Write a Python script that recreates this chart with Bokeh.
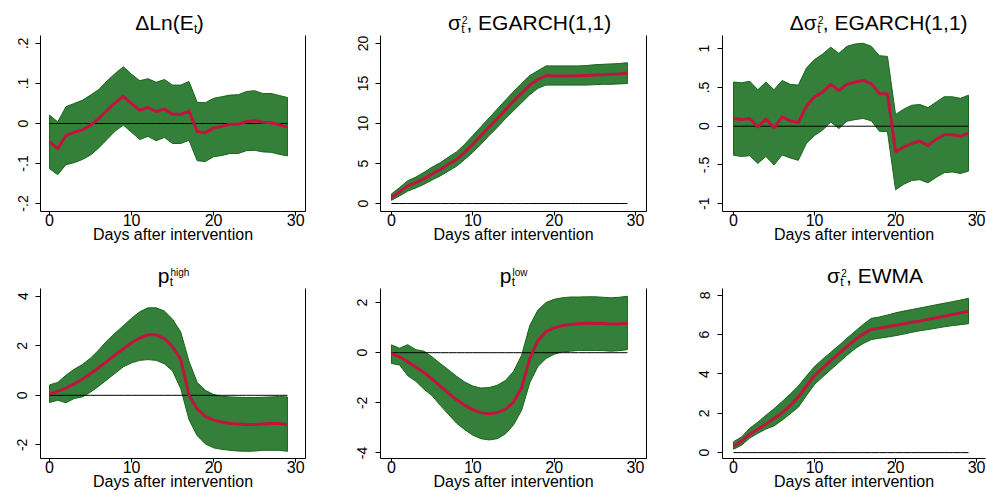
from bokeh.plotting import figure
from bokeh.models import FixedTicker, LinearAxis, Range1d
from bokeh.layouts import column, row
from bokeh.core.properties import value
from bokeh.embed import file_html
from bokeh.resources import INLINE

# ---- data -------------------------------------------------------------
days = list(range(30))
x_ticks = [0, 10, 20, 30]
x_title = "Days after intervention"

dlne_mean = [-0.046, -0.063, -0.030, -0.022, -0.016, -0.004, 0.012, 0.033, 0.052, 0.068,
             0.050, 0.033, 0.040, 0.030, 0.036, 0.023, 0.023, 0.031, -0.020, -0.023,
             -0.011, -0.007, -0.002, -0.002, 0.005, 0.007, 0.003, 0.002, -0.003, -0.009]
dlne_upper = [0.021, 0.004, 0.042, 0.050, 0.058, 0.071, 0.085, 0.106, 0.125, 0.142,
              0.123, 0.107, 0.112, 0.103, 0.110, 0.096, 0.096, 0.105, 0.053, 0.052,
              0.063, 0.067, 0.071, 0.072, 0.080, 0.082, 0.075, 0.075, 0.070, 0.065]
dlne_lower = [-0.113, -0.128, -0.103, -0.098, -0.090, -0.079, -0.061, -0.040, -0.019, -0.004,
              -0.022, -0.040, -0.032, -0.043, -0.035, -0.050, -0.050, -0.042, -0.093, -0.095,
              -0.083, -0.080, -0.075, -0.075, -0.068, -0.067, -0.071, -0.072, -0.077, -0.081]
dlne_ticks = [-0.2, -0.1, 0, 0.1, 0.2]
dlne_tick_labels = ["-.2", "-.1", "0", ".1", ".2"]

egarch_mean = [0.75, 1.45, 2.2, 2.6, 3.1, 3.7, 4.25, 4.9, 5.5, 6.4,
               7.4, 8.5, 9.6, 10.6, 11.7, 12.8, 13.8, 14.8, 15.5, 16.0,
               15.95, 15.95, 15.95, 15.97, 16.0, 16.05, 16.1, 16.15, 16.2, 16.3]
egarch_upper = [1.2, 2.0, 2.85, 3.3, 3.9, 4.55, 5.1, 5.8, 6.45, 7.4,
                8.5, 9.6, 10.7, 11.8, 12.9, 14.0, 15.0, 16.0, 16.6, 17.2,
                17.2, 17.2, 17.2, 17.2, 17.25, 17.35, 17.4, 17.45, 17.5, 17.6]
egarch_lower = [0.4, 0.95, 1.55, 1.95, 2.4, 2.95, 3.45, 4.05, 4.65, 5.5,
                6.4, 7.4, 8.5, 9.5, 10.6, 11.6, 12.6, 13.6, 14.4, 14.8,
                14.8, 14.8, 14.8, 14.8, 14.8, 14.85, 14.9, 14.9, 14.95, 15.0]
egarch_ticks = [0, 5, 10, 15, 20]
egarch_tick_labels = ["0", "5", "10", "15", "20"]

degarch_mean = [0.10, 0.086, 0.10, -0.01, 0.095, -0.02, 0.12, 0.07, 0.047, 0.26,
                0.38, 0.44, 0.54, 0.46, 0.54, 0.57, 0.59, 0.55, 0.42, 0.42,
                -0.33, -0.27, -0.22, -0.19, -0.25, -0.17, -0.11, -0.11, -0.13, -0.086]
degarch_upper = [0.57, 0.56, 0.58, 0.47, 0.57, 0.47, 0.59, 0.54, 0.53, 0.75,
                 0.86, 0.93, 1.02, 0.94, 1.03, 1.06, 1.07, 1.03, 0.91, 0.90,
                 0.15, 0.22, 0.27, 0.28, 0.24, 0.31, 0.38, 0.38, 0.36, 0.40]
degarch_lower = [-0.375, -0.39, -0.38, -0.48, -0.39, -0.50, -0.37, -0.41, -0.44, -0.22,
                 -0.12, -0.05, 0.055, -0.03, 0.065, 0.085, 0.10, 0.07, -0.065, -0.07,
                 -0.82, -0.75, -0.70, -0.69, -0.73, -0.66, -0.60, -0.59, -0.61, -0.58]
degarch_ticks = [-1, -0.5, 0, 0.5, 1]
degarch_tick_labels = ["-1", "-.5", "0", ".5", "1"]

phigh_mean = [0.065, 0.16, 0.29, 0.46, 0.65, 0.88, 1.11, 1.37, 1.63, 1.88,
              2.12, 2.31, 2.44, 2.44, 2.29, 1.96, 1.44, 0.0, -0.55, -0.85,
              -1.0, -1.08, -1.14, -1.16, -1.18, -1.18, -1.16, -1.14, -1.14, -1.19]
phigh_upper = [0.42, 0.52, 0.81, 1.05, 1.24, 1.50, 1.83, 2.20, 2.51, 2.81,
               3.11, 3.37, 3.53, 3.53, 3.40, 3.07, 2.55, 1.37, 0.52, 0.20,
               0.03, -0.04, -0.065, -0.08, -0.09, -0.09, -0.08, -0.065, -0.05, -0.065]
phigh_lower = [-0.29, -0.20, -0.30, -0.13, -0.065, 0.13, 0.37, 0.63, 0.89, 1.15,
               1.31, 1.41, 1.44, 1.41, 1.27, 0.98, 0.26, -0.98, -1.63, -1.96,
               -2.12, -2.18, -2.22, -2.25, -2.26, -2.25, -2.22, -2.22, -2.22, -2.26]
phigh_ticks = [-2, 0, 2, 4]
phigh_tick_labels = ["-2", "0", "2", "4"]

plow_mean = [-0.04, -0.17, -0.36, -0.58, -0.79, -1.05, -1.33, -1.61, -1.88, -2.10,
             -2.27, -2.39, -2.44, -2.39, -2.26, -1.97, -1.39, -0.23, 0.48, 0.84,
             0.99, 1.08, 1.12, 1.15, 1.17, 1.17, 1.16, 1.14, 1.14, 1.17]
plow_upper = [0.31, 0.18, 0.32, 0.12, 0.06, -0.17, -0.43, -0.68, -0.94, -1.17,
              -1.33, -1.41, -1.39, -1.30, -1.11, -0.75, -0.10, 1.08, 1.70, 2.00,
              2.13, 2.19, 2.22, 2.22, 2.23, 2.23, 2.21, 2.19, 2.21, 2.25]
plow_lower = [-0.43, -0.49, -0.92, -1.14, -1.46, -1.72, -2.10, -2.46, -2.81, -3.07,
              -3.29, -3.43, -3.48, -3.43, -3.24, -2.88, -2.30, -1.20, -0.55, -0.23,
              -0.06, 0.03, 0.06, 0.09, 0.09, 0.09, 0.08, 0.06, 0.08, 0.12]
plow_ticks = [-4, -2, 0, 2]
plow_tick_labels = ["-4", "-2", "0", "2"]

ewma_mean = [0.33, 0.58, 0.94, 1.19, 1.45, 1.74, 2.03, 2.40, 2.84, 3.39,
             3.92, 4.30, 4.68, 5.04, 5.40, 5.74, 6.03, 6.28, 6.33, 6.40,
             6.48, 6.56, 6.63, 6.69, 6.78, 6.86, 6.94, 7.02, 7.11, 7.19]
ewma_upper = [0.55, 0.80, 1.24, 1.55, 1.90, 2.23, 2.60, 2.98, 3.39, 3.90,
              4.38, 4.75, 5.10, 5.45, 5.82, 6.17, 6.52, 6.83, 6.90, 7.00,
              7.11, 7.20, 7.28, 7.36, 7.44, 7.52, 7.60, 7.68, 7.76, 7.85]
ewma_lower = [0.17, 0.38, 0.74, 0.98, 1.20, 1.36, 1.65, 1.98, 2.31, 2.90,
              3.47, 3.85, 4.22, 4.58, 4.95, 5.29, 5.55, 5.75, 5.82, 5.88,
              5.95, 6.03, 6.12, 6.20, 6.26, 6.33, 6.40, 6.46, 6.51, 6.56]
ewma_ticks = [0, 2, 4, 6, 8]
ewma_tick_labels = ["0", "2", "4", "6", "8"]

# ---- style --------------------------------------------------------------
FONT = "Liberation Sans"
BAND_FILL = "#34803a"
BAND_EDGE = "#17661b"
MEAN_RED = "#c4123f"
STRIP_H = 35
# (x nudge, vertical centre inside the title strip, font size) per piece kind
PIECE = {"main": (0.0, 13.3, "21px"), "sub": (0.0, 6.2, "12px"), "sup": (1.0, 16.0, "10px")}


def title_strip(width, centre, pieces):
    """A thin canvas above a panel holding its title with sub/superscripts."""
    s = figure(width=width, height=STRIP_H, x_range=Range1d(0, width), y_range=Range1d(0, STRIP_H),
               output_backend="svg", toolbar_location=None, x_axis_type=None, y_axis_type=None,
               min_border_left=0, min_border_right=0, min_border_top=0, min_border_bottom=0)
    s.outline_line_color = None
    s.grid.visible = False
    for text, dx, kind, align in pieces:
        nudge, ymid, size = PIECE[kind]
        s.text(x=[centre + dx + nudge], y=[ymid], text=[text], text_font=value(FONT),
               text_font_size=value(size), text_color="black",
               text_align=align, text_baseline="middle")
    return s


def panel(mean, lower, upper, yr, xr, ticks, tick_labels, title_pieces,
          width, height, left, right, bottom, right_line=True):
    p = figure(width=width, height=height, x_range=Range1d(*xr), y_range=Range1d(*yr),
               output_backend="svg", toolbar_location=None,
               min_border_left=left, min_border_right=right,
               min_border_top=0, min_border_bottom=bottom)
    p.outline_line_color = None
    p.grid.visible = False

    xa = p.xaxis[0]
    xa.ticker = FixedTicker(ticks=x_ticks)
    xa.major_label_text_font = FONT
    xa.major_label_text_font_size = "16px"
    xa.major_label_text_color = "black"
    xa.major_label_standoff = -2
    xa.major_tick_out = 4
    xa.major_tick_in = 0
    xa.minor_tick_line_color = None
    xa.axis_line_color = "black"
    xa.major_tick_line_color = "black"
    xa.axis_label = x_title
    xa.axis_label_text_font = FONT
    xa.axis_label_text_font_size = "16px"
    xa.axis_label_text_font_style = "normal"
    xa.axis_label_text_color = "black"
    xa.axis_label_standoff = -3

    ya = p.yaxis[0]
    ya.ticker = FixedTicker(ticks=ticks)
    ya.major_label_overrides = dict(zip(ticks, tick_labels))
    ya.major_label_orientation = "vertical"
    ya.major_label_text_font = FONT
    ya.major_label_text_font_size = "14px"
    ya.major_label_text_color = "black"
    ya.major_label_standoff = 8
    ya.major_tick_out = 5
    ya.major_tick_in = 0
    ya.minor_tick_line_color = None
    ya.axis_line_color = "black"
    ya.major_tick_line_color = "black"

    if right_line:
        p.add_layout(LinearAxis(ticker=FixedTicker(ticks=[]), axis_line_color="black",
                                major_tick_line_color=None, minor_tick_line_color=None,
                                major_label_text_font_size="0px"), "right")

    # confidence band, zero line, point estimate
    p.patch(days + days[::-1], upper + lower[::-1],
            fill_color=BAND_FILL, line_color=BAND_EDGE, line_width=1)
    p.line(days, [0] * len(days), line_color="black", line_width=1)
    p.line(days, mean, line_color=MEAN_RED, line_width=3, line_join="round")

    frame_w = width - left - right
    strip = title_strip(width, left + frame_w / 2, title_pieces)
    return column(strip, p)


XR1 = (-1.1, 31.2)
XR2 = (-1.35, 31.35)
XR3 = (-1.36, 31.1)

t1 = [("ΔLn(E", 24.0, "main", "right"), ("t", 24.5, "sub", "left"), (")", 28.0, "main", "left")]
t2 = [("σ", -69.6, "main", "right"), ("t", -69.1, "sub", "left"), ("2", -69.1, "sup", "left"),
      (", EGARCH(1,1)", -62.5, "main", "left")]
t3 = [("Δσ", -62.6, "main", "right"), ("t", -62.1, "sub", "left"), ("2", -62.1, "sup", "left"),
      (", EGARCH(1,1)", -55.5, "main", "left")]
t4 = [("p", -7.2, "main", "right"), ("t", -6.7, "sub", "left"), ("high", -6.7, "sup", "left")]
t5 = [("p", -4.7, "main", "right"), ("t", -4.2, "sub", "left"), ("low", -4.2, "sup", "left")]
t6 = [("σ", -35.8, "main", "right"), ("t", -35.3, "sub", "left"), ("2", -35.3, "sup", "left"),
      (", EWMA", -28.7, "main", "left")]

TOP_H, BOT_H = 253 - STRIP_H, 239 - STRIP_H
p1 = panel(dlne_mean, dlne_lower, dlne_upper, (-0.22, 0.22), XR1, dlne_ticks, dlne_tick_labels,
           t1, 340, TOP_H, 40, 35, 42)
p2 = panel(egarch_mean, egarch_lower, egarch_upper, (-1.0, 21.0), XR2, egarch_ticks, egarch_tick_labels,
           t2, 342, TOP_H, 40, 36, 42)
p3 = panel(degarch_mean, degarch_lower, degarch_upper, (-1.10, 1.17), XR3, degarch_ticks,
           degarch_tick_labels, t3, 304, TOP_H, 40, 1, 42, right_line=False)
p4 = panel(phigh_mean, phigh_lower, phigh_upper, (-2.55, 4.31), XR1, phigh_ticks, phigh_tick_labels,
           t4, 340, BOT_H, 40, 35, 29)
p5 = panel(plow_mean, plow_lower, plow_upper, (-4.22, 2.56), XR2, plow_ticks, plow_tick_labels,
           t5, 342, BOT_H, 40, 36, 29)
p6 = panel(ewma_mean, ewma_lower, ewma_upper, (-0.3, 8.35), XR3, ewma_ticks, ewma_tick_labels,
           t6, 304, BOT_H, 40, 1, 29, right_line=False)

layout = column(row(p1, p2, p3), row(p4, p5, p6))
open("out.html", "w").write(file_html(layout, INLINE))
